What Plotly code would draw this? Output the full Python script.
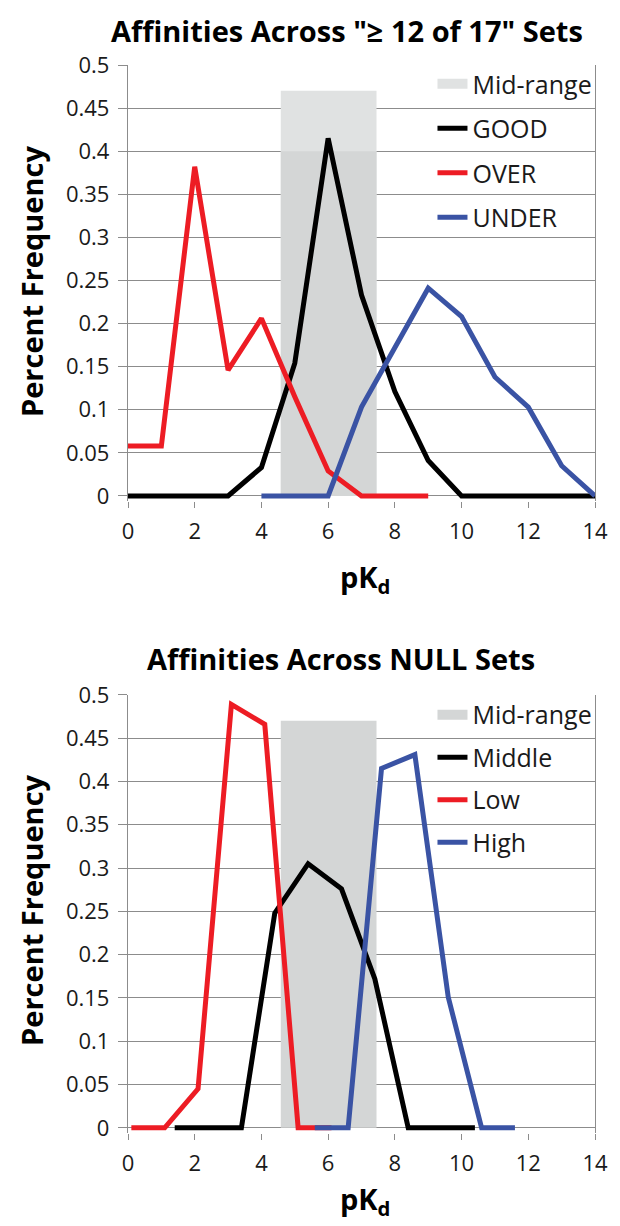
import plotly.graph_objects as go

# ---------------- data ----------------
# Top chart: "≥ 12 of 17" sets
top_title = 'Affinities Across "≥ 12 of 17" Sets'
good_x = [0, 1, 2, 3, 4, 5, 6, 7, 8, 9, 10, 11, 12, 13, 14]
good_y = [0, 0, 0, 0, 0.033, 0.154, 0.415, 0.233, 0.121, 0.041, 0, 0, 0, 0, 0]
over_x = [0, 1, 2, 3, 4, 5, 6, 7, 8, 9]
over_y = [0.058, 0.058, 0.382, 0.146, 0.206, 0.115, 0.029, 0, 0, 0]
under_x = [4, 5, 6, 7, 8, 9, 10, 11, 12, 13, 14]
under_y = [0, 0, 0, 0.103, 0.172, 0.241, 0.208, 0.138, 0.103, 0.035, 0]

# Bottom chart: NULL sets
bot_title = "Affinities Across NULL Sets"
middle_x = [1.4, 2.4, 3.4, 4.4, 5.4, 6.4, 7.4, 8.4, 9.4, 10.4]
middle_y = [0, 0, 0, 0.248, 0.305, 0.276, 0.172, 0, 0, 0]
low_x = [0.1, 1.1, 2.1, 3.1, 4.1, 5.1, 6.1]
low_y = [0, 0, 0.045, 0.489, 0.466, 0, 0]
high_x = [5.6, 6.6, 7.6, 8.6, 9.6, 10.6, 11.6]
high_y = [0, 0, 0.415, 0.431, 0.151, 0, 0]

# Mid-range band
band_lo = 4.58
band_hi = 7.45
band_top = 0.47
band_inner_top = 0.40   # darker lower part in the top chart

x_ticks = [0, 2, 4, 6, 8, 10, 12, 14]

# ---------------- layout constants ----------------
W, H = 620, 1226
ML, MR, MT = 128, 15, 65
Y_MIN = -0.006
top_px = (65, 496)     # pixel of y=0.5 and y=0 (top chart)
bot_px = (695, 1128)   # pixel of y=0.5 and y=0 (bottom chart)

def bottom_pixel(px):
    scale = (px[1] - px[0]) / 0.5
    return px[1] - Y_MIN * scale

top_bottom = bottom_pixel(top_px)
bot_bottom = bottom_pixel(bot_px)
MB = H - bot_bottom
PH = H - MT - MB

def py(p):
    return (H - MB - p) / PH

def pxx(p):
    return (p - ML) / (W - ML - MR)

RED = "#ed1c24"
BLUE = "#3a53a4"
BLACK = "#000000"
BAND_LIGHT = "#e0e2e2"
BAND_DARK = "#d4d6d6"
GRID = "#8c8c8c"
FONT = "Open Sans"

fig = go.Figure()

bx = (band_lo + band_hi) / 2
bw = band_hi - band_lo

# top chart
fig.add_trace(go.Bar(x=[bx], y=[band_top], width=[bw], marker=dict(color=BAND_LIGHT, line=dict(width=0)),
                     name="Mid-range", xaxis="x", yaxis="y", showlegend=False, hoverinfo="skip"))
fig.add_trace(go.Bar(x=[bx], y=[band_inner_top], width=[bw], marker=dict(color=BAND_DARK, line=dict(width=0)),
                     name="Mid-range", xaxis="x", yaxis="y", showlegend=False, hoverinfo="skip"))
# legend swatch for the band (draws nothing on the plot)
fig.add_trace(go.Scatter(x=[None], y=[None], mode="lines", name="Mid-range",
                         line=dict(color=BAND_LIGHT, width=12), xaxis="x", yaxis="y",
                         legend="legend", legendgroup="a", hoverinfo="skip"))
fig.add_trace(go.Scatter(x=good_x, y=good_y, mode="lines", name="GOOD", line=dict(color=BLACK, width=5),
                         xaxis="x", yaxis="y", legend="legend", legendgroup="b"))
fig.add_trace(go.Scatter(x=over_x, y=over_y, mode="lines", name="OVER", line=dict(color=RED, width=5),
                         xaxis="x", yaxis="y", legend="legend", legendgroup="c"))
fig.add_trace(go.Scatter(x=under_x, y=under_y, mode="lines", name="UNDER", line=dict(color=BLUE, width=5),
                         xaxis="x", yaxis="y", legend="legend", legendgroup="d"))

# bottom chart
fig.add_trace(go.Bar(x=[bx], y=[band_top], width=[bw], marker=dict(color=BAND_DARK, line=dict(width=0)),
                     name="Mid-range", xaxis="x2", yaxis="y2", showlegend=False, hoverinfo="skip"))
fig.add_trace(go.Scatter(x=[None], y=[None], mode="lines", name="Mid-range",
                         line=dict(color=BAND_DARK, width=12), xaxis="x2", yaxis="y2",
                         legend="legend2", legendgroup="e", hoverinfo="skip"))
fig.add_trace(go.Scatter(x=middle_x, y=middle_y, mode="lines", name="Middle", line=dict(color=BLACK, width=5),
                         xaxis="x2", yaxis="y2", legend="legend2", legendgroup="f"))
fig.add_trace(go.Scatter(x=low_x, y=low_y, mode="lines", name="Low", line=dict(color=RED, width=5),
                         xaxis="x2", yaxis="y2", legend="legend2", legendgroup="g"))
fig.add_trace(go.Scatter(x=high_x, y=high_y, mode="lines", name="High", line=dict(color=BLUE, width=5),
                         xaxis="x2", yaxis="y2", legend="legend2", legendgroup="h"))

tickfont = dict(family=FONT, size=22, color="#1a1a1a")

xax = dict(range=[0, 14], tickvals=x_ticks, showgrid=False, showline=False, zeroline=False,
           ticks="outside", ticklen=6, tickcolor=GRID, tickwidth=1.3, tickfont=tickfont,
           layer="below traces", fixedrange=True, ticklabelstandoff=5)
yax = dict(range=[Y_MIN, 0.5], dtick=0.05, tick0=0, showgrid=True, gridcolor=GRID, gridwidth=1.3,
           showline=True, linecolor=GRID, linewidth=1.3, mirror=True,
           zeroline=True, zerolinecolor=GRID, zerolinewidth=1.3,
           ticks="outside", ticklen=9, tickcolor=GRID, tickwidth=1.3, tickfont=tickfont,
           layer="below traces", fixedrange=True, ticklabelstandoff=4)

top_dom = [py(top_bottom), py(top_px[0])]
bot_dom = [py(bot_bottom), py(bot_px[0])]

legfont = dict(family=FONT, size=25, color="#1a1a1a")

fig.update_layout(
    width=W, height=H,
    margin=dict(l=ML, r=MR, t=MT, b=MB, pad=0),
    paper_bgcolor="white", plot_bgcolor="white",
    barmode="overlay",
    xaxis=dict(**xax, domain=[0, 1], anchor="y"),
    yaxis=dict(**yax, domain=top_dom, anchor="x"),
    xaxis2=dict(**xax, domain=[0, 1], anchor="y2"),
    yaxis2=dict(**yax, domain=bot_dom, anchor="x2"),
    legend=dict(x=pxx(439), y=py(61), xanchor="left", yanchor="top", font=legfont,
                bgcolor="rgba(0,0,0,0)", tracegroupgap=9, traceorder="grouped"),
    legend2=dict(x=pxx(439), y=py(692), xanchor="left", yanchor="top", font=legfont,
                 bgcolor="rgba(0,0,0,0)", tracegroupgap=7, traceorder="grouped"),
    showlegend=True,
)

titlefont = dict(family=FONT, size=29, color="black", weight="bold")
axtitlefont = dict(family=FONT, size=29, color="black", weight="bold")
ann = [
    dict(text=top_title, x=pxx(352), y=py(30), xref="paper", yref="paper", showarrow=False,
         font=titlefont, xanchor="center", yanchor="middle"),
    dict(text=bot_title, x=pxx(346), y=py(659), xref="paper", yref="paper", showarrow=False,
         font=titlefont, xanchor="center", yanchor="middle"),
    dict(text="Percent Frequency", x=pxx(30), y=py(282), xref="paper", yref="paper", showarrow=False,
         font=axtitlefont, textangle=-90, xanchor="center", yanchor="middle"),
    dict(text="Percent Frequency", x=pxx(30), y=py(911), xref="paper", yref="paper", showarrow=False,
         font=axtitlefont, textangle=-90, xanchor="center", yanchor="middle"),
    dict(text="pK<sub>d</sub>", x=pxx(370), y=py(579), xref="paper", yref="paper", showarrow=False,
         font=axtitlefont, xanchor="center", yanchor="middle"),
    dict(text="pK<sub>d</sub>", x=pxx(370), y=py(1201), xref="paper", yref="paper", showarrow=False,
         font=axtitlefont, xanchor="center", yanchor="middle"),
]
fig.update_layout(annotations=ann)

fig.write_html("out.html")
